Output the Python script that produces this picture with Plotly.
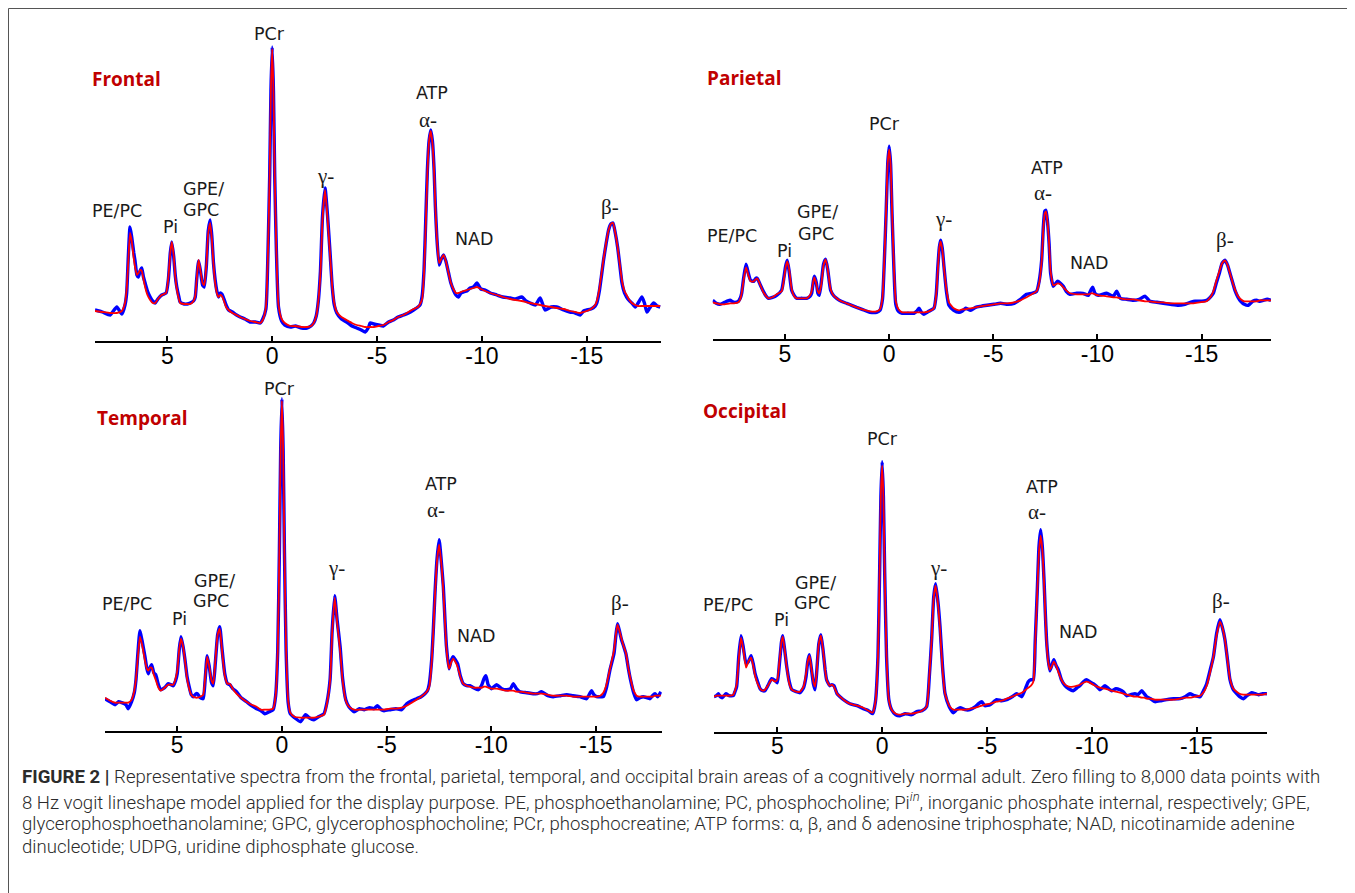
import plotly.graph_objects as go

# The browser page has an 8 px body margin, so the figure is laid out in page pixels minus 8.
PAGE_OFFSET = 8
FW, FH = 1347, 885

# ---------------- data (chemical shift in ppm, signal in arbitrary units) ----------------
frontal_ppm = [8.45, 8.1, 7.73, 7.41, 7.17, 7.02, 6.94, 6.86, 6.78, 6.7,
               6.6, 6.54, 6.45, 6.38, 6.3, 6.22, 6.14, 6.06, 5.95, 5.82,
               5.7, 5.58, 5.45, 5.27, 5.06, 4.95, 4.86, 4.79, 4.7, 4.62,
               4.55, 4.45, 4.39, 4.2, 4.05, 3.91, 3.75, 3.67, 3.6, 3.51,
               3.42, 3.32, 3.24, 3.14, 3.05, 2.96, 2.88, 2.8, 2.72, 2.64,
               2.56, 2.48, 2.4, 2.3, 2.2, 2.08, 1.9, 1.7, 1.53, 1.3,
               1.05, 0.8, 0.57, 0.45, 0.3, 0.2, 0.12, 0.06, 0.0, -0.06,
               -0.12, -0.2, -0.3, -0.45, -0.6, -0.87, -1.1, -1.4, -1.66, -1.85,
               -1.98, -2.1, -2.2, -2.3, -2.4, -2.52, -2.64, -2.76, -2.86, -2.96,
               -3.08, -3.3, -3.55, -3.8, -4.03, -4.25, -4.43, -4.6, -4.67, -4.85,
               -5.07, -5.3, -5.55, -5.78, -6.0, -6.26, -6.5, -6.74, -6.95, -7.05,
               -7.15, -7.24, -7.32, -7.4, -7.48, -7.56, -7.64, -7.72, -7.78, -7.85,
               -7.96, -8.06, -8.17, -8.28, -8.41, -8.52, -8.64, -8.76, -8.88, -9.0,
               -9.12, -9.28, -9.44, -9.6, -9.76, -9.95, -10.15, -10.4, -10.71, -11.0,
               -11.35, -11.6, -11.9, -12.1, -12.3, -12.55, -12.78, -13.01, -13.3, -13.57,
               -13.9, -14.2, -14.45, -14.68, -14.85, -15.0, -15.2, -15.4, -15.48, -15.6,
               -15.7, -15.8, -15.92, -16.04, -16.15, -16.25, -16.36, -16.47, -16.58, -16.68,
               -16.8, -16.9, -17.0, -17.15, -17.31, -17.45, -17.63, -17.75, -17.87, -18.0,
               -18.19, -18.35, -18.5]
frontal_measured = [31, 29, 26, 34, 27, 36, 48, 85, 114, 104,
                    88, 80, 66, 64, 70, 73, 64, 58, 50, 44,
                    40, 38, 42, 46, 48, 62, 88, 99, 85, 65,
                    54, 44, 39, 37, 37, 38, 40, 44, 62, 80,
                    70, 56, 54, 75, 110, 121, 105, 78, 61, 50,
                    44, 48, 47, 42, 36, 31, 29, 26, 24, 22,
                    19, 19, 18, 22, 32, 90, 165, 250, 294, 250,
                    165, 90, 34, 20, 16, 14, 15, 13, 13, 15,
                    18, 25, 40, 70, 125, 153, 125, 88, 55, 36,
                    28, 22, 19, 15, 13, 11, 9, 14, 18, 17,
                    16, 15, 19, 21, 24, 26, 28, 31, 34, 36,
                    45, 71, 120, 171, 200, 211, 200, 171, 135, 104,
                    76, 82, 86, 80, 68, 58, 51, 46, 44, 48,
                    49, 50, 53, 54, 58, 52, 51, 48, 46, 44,
                    43, 42, 44, 40, 38, 36, 43, 31, 34, 34,
                    31, 29, 28, 26, 30, 31, 32, 35, 38, 50,
                    65, 81, 97, 111, 117, 118, 108, 94, 75, 58,
                    48, 44, 41, 38, 34, 38, 44, 38, 29, 33,
                    38, 35, 34]
frontal_fit = [30, 29, 28, 28, 30, 38, 52, 80, 108, 100,
               82, 74, 66, 68, 71, 70, 62, 54, 46, 41,
               38, 38, 42, 46, 48, 64, 88, 99, 86, 64,
               52, 42, 38, 37, 37, 37, 40, 45, 62, 81,
               70, 58, 56, 76, 108, 118, 102, 77, 58, 48,
               44, 46, 45, 40, 34, 31, 28, 26, 24, 22,
               20, 19, 18, 21, 34, 90, 168, 252, 292, 250,
               165, 90, 36, 22, 18, 15, 15, 14, 14, 15,
               18, 25, 40, 68, 122, 151, 122, 86, 55, 38,
               29, 24, 21, 18, 16, 15, 14, 14, 14, 14,
               15, 16, 19, 21, 24, 26, 29, 32, 34, 37,
               42, 68, 115, 168, 200, 210, 198, 170, 135, 104,
               78, 82, 86, 80, 68, 58, 52, 48, 48, 49,
               50, 51, 52, 53, 54, 52, 50, 48, 46, 44,
               42, 41, 40, 39, 38, 37, 36, 35, 34, 33,
               32, 30, 29, 28, 29, 30, 32, 36, 40, 52,
               67, 82, 98, 111, 117, 118, 108, 94, 76, 60,
               50, 46, 42, 38, 36, 35, 35, 35, 35, 35,
               35, 35, 35]

parietal_ppm = [8.47, 8.3, 8.12, 7.9, 7.64, 7.45, 7.24, 7.15, 7.08, 6.98,
                6.87, 6.76, 6.65, 6.5, 6.4, 6.33, 6.2, 6.04, 5.9, 5.8,
                5.6, 5.4, 5.16, 5.05, 4.97, 4.89, 4.8, 4.68, 4.56, 4.44,
                4.2, 3.96, 3.8, 3.72, 3.64, 3.59, 3.5, 3.42, 3.35, 3.25,
                3.15, 3.05, 2.95, 2.81, 2.68, 2.52, 2.3, 2.04, 1.8, 1.56,
                1.3, 0.92, 0.6, 0.44, 0.32, 0.23, 0.14, 0.07, 0.0, -0.07,
                -0.14, -0.23, -0.32, -0.45, -0.63, -0.9, -1.19, -1.32, -1.43, -1.55,
                -1.67, -1.9, -2.15, -2.26, -2.34, -2.41, -2.47, -2.55, -2.63, -2.75,
                -2.87, -3.1, -3.35, -3.5, -3.67, -3.91, -4.15, -4.39, -4.7, -5.03,
                -5.35, -5.7, -6.0, -6.3, -6.6, -6.85, -7.08, -7.2, -7.32, -7.4,
                -7.47, -7.53, -7.6, -7.68, -7.75, -7.88, -8.0, -8.09, -8.22, -8.36,
                -8.5, -8.68, -9.0, -9.3, -9.56, -9.7, -9.77, -9.88, -10.04, -10.44,
                -10.76, -10.92, -11.1, -11.4, -11.72, -12.0, -12.28, -12.52, -12.85, -13.16,
                -13.5, -13.88, -14.2, -14.6, -14.9, -15.24, -15.45, -15.56, -15.7, -15.85,
                -15.98, -16.12, -16.25, -16.36, -16.5, -16.6, -16.75, -16.88, -17.05, -17.24,
                -17.45, -17.64, -17.8, -17.96, -18.15, -18.33]
parietal_measured = [39, 36, 35, 37, 39, 37, 38, 41, 46, 62,
                     75, 66, 59, 58, 61, 61, 55, 48, 43, 41,
                     42, 44, 49, 62, 73, 79, 68, 49, 44, 41,
                     41, 41, 43, 46, 58, 63, 57, 46, 44, 58,
                     75, 80, 70, 49, 44, 41, 38, 36, 34, 32,
                     30, 27, 27, 29, 40, 79, 130, 175, 193, 175,
                     125, 70, 35, 28, 26, 26, 26, 28, 31, 27,
                     25, 28, 31, 45, 73, 92, 99, 91, 73, 48,
                     34, 29, 27, 28, 31, 29, 32, 33, 34, 35,
                     36, 35, 36, 40, 45, 46, 48, 58, 79, 112,
                     128, 129, 118, 95, 66, 53, 56, 58, 56, 53,
                     48, 45, 46, 46, 44, 50, 52, 46, 44, 46,
                     43, 48, 41, 40, 39, 40, 43, 38, 37, 36,
                     35, 34, 35, 38, 38, 39, 43, 46, 56, 66,
                     76, 79, 74, 66, 56, 49, 42, 38, 35, 34,
                     38, 39, 38, 39, 40, 39]
parietal_fit = [37, 36, 35, 35, 36, 36, 37, 40, 46, 60,
                72, 64, 58, 58, 60, 61, 55, 47, 43, 41,
                42, 45, 48, 60, 72, 78, 70, 50, 43, 41,
                41, 41, 44, 48, 58, 62, 56, 48, 46, 56,
                74, 80, 70, 50, 44, 41, 38, 36, 34, 32,
                30, 28, 28, 30, 42, 80, 132, 176, 190, 175,
                128, 72, 38, 30, 27, 27, 27, 27, 27, 27,
                27, 28, 31, 45, 70, 92, 98, 90, 72, 50,
                37, 31, 29, 30, 30, 31, 32, 33, 34, 35,
                36, 36, 37, 39, 42, 45, 48, 56, 78, 110,
                126, 128, 118, 95, 68, 54, 55, 56, 55, 52,
                49, 46, 45, 45, 45, 46, 46, 45, 44, 43,
                42, 42, 41, 40, 40, 39, 38, 38, 37, 37,
                36, 36, 36, 36, 37, 38, 43, 48, 58, 68,
                76, 79, 74, 66, 56, 50, 43, 40, 38, 38,
                38, 38, 39, 39, 39, 39]

temporal_ppm = [8.45, 8.2, 7.97, 7.8, 7.65, 7.45, 7.34, 7.18, 7.05, 6.97,
                6.87, 6.78, 6.68, 6.54, 6.45, 6.38, 6.3, 6.22, 6.12, 6.03,
                5.9, 5.79, 5.6, 5.43, 5.3, 5.19, 5.08, 5.0, 4.9, 4.82,
                4.72, 4.63, 4.53, 4.43, 4.33, 4.23, 4.1, 4.04, 3.9, 3.76,
                3.67, 3.57, 3.47, 3.36, 3.28, 3.18, 3.07, 2.97, 2.87, 2.73,
                2.6, 2.49, 2.35, 2.17, 1.95, 1.69, 1.45, 1.21, 1.0, 0.82,
                0.6, 0.42, 0.3, 0.2, 0.12, 0.06, 0.0, -0.06, -0.12, -0.2,
                -0.3, -0.4, -0.6, -0.89, -1.13, -1.3, -1.53, -1.75, -2.01, -2.15,
                -2.3, -2.4, -2.52, -2.64, -2.78, -2.9, -3.05, -3.2, -3.45, -3.7,
                -3.93, -4.2, -4.4, -4.56, -4.75, -4.88, -5.16, -5.45, -5.72, -5.96,
                -6.2, -6.43, -6.65, -6.83, -6.95, -7.04, -7.15, -7.23, -7.31, -7.41,
                -7.51, -7.61, -7.71, -7.79, -7.86, -7.98, -8.08, -8.18, -8.28, -8.39,
                -8.52, -8.66, -8.82, -8.98, -9.15, -9.38, -9.55, -9.65, -9.74, -9.85,
                -10.01, -10.25, -10.5, -10.73, -10.92, -11.05, -11.2, -11.37, -11.7, -12.0,
                -12.2, -12.4, -12.7, -12.96, -13.3, -13.6, -13.9, -14.23, -14.55, -14.7,
                -14.79, -14.9, -15.03, -15.2, -15.35, -15.5, -15.67, -15.86, -15.95, -16.03,
                -16.12, -16.22, -16.33, -16.43, -16.55, -16.65, -16.8, -16.94, -17.1, -17.26,
                -17.42, -17.58, -17.7, -17.82, -17.95, -18.1]
temporal_measured = [32, 29, 26, 29, 28, 26, 22, 29, 38, 51,
                     80, 100, 90, 74, 62, 57, 63, 66, 58, 56,
                     46, 41, 43, 47, 46, 45, 50, 57, 82, 94,
                     84, 71, 54, 44, 36, 34, 37, 37, 33, 32,
                     50, 75, 64, 48, 45, 68, 96, 104, 84, 57,
                     47, 46, 42, 39, 33, 29, 25, 22, 20, 17,
                     19, 21, 35, 80, 180, 280, 332, 280, 180, 80,
                     28, 17, 13, 9, 16, 13, 11, 14, 17, 28,
                     51, 100, 135, 110, 84, 52, 31, 24, 19, 22,
                     21, 23, 22, 25, 21, 20, 21, 22, 21, 27,
                     30, 32, 34, 37, 40, 47, 70, 100, 137, 172,
                     191, 170, 144, 110, 84, 62, 70, 74, 71, 67,
                     55, 47, 45, 45, 43, 41, 46, 52, 55, 46,
                     42, 46, 42, 41, 42, 47, 42, 39, 38, 37,
                     37, 39, 35, 34, 35, 36, 35, 34, 32, 37,
                     40, 36, 34, 34, 34, 43, 61, 77, 95, 107,
                     100, 91, 84, 77, 62, 51, 38, 31, 33, 34,
                     33, 32, 35, 37, 34, 39]
temporal_fit = [33, 30, 28, 28, 28, 28, 28, 31, 40, 52,
                76, 94, 86, 70, 62, 60, 63, 63, 56, 51,
                43, 40, 43, 46, 46, 46, 52, 60, 82, 92,
                84, 70, 52, 42, 36, 34, 33, 33, 34, 36,
                52, 74, 64, 50, 47, 70, 96, 102, 82, 55,
                47, 47, 42, 37, 33, 29, 26, 24, 21, 21,
                21, 22, 35, 80, 182, 282, 330, 280, 180, 82,
                30, 18, 14, 13, 13, 13, 13, 14, 16, 27,
                50, 98, 133, 108, 80, 50, 30, 24, 21, 21,
                21, 21, 21, 21, 21, 21, 22, 22, 23, 25,
                28, 31, 34, 37, 40, 44, 68, 98, 135, 170,
                186, 168, 140, 108, 82, 62, 68, 72, 69, 64,
                54, 47, 45, 44, 43, 43, 43, 44, 44, 43,
                42, 42, 41, 40, 40, 40, 39, 39, 38, 37,
                37, 37, 36, 35, 35, 35, 34, 34, 34, 34,
                34, 34, 34, 35, 38, 46, 62, 80, 96, 106,
                100, 92, 84, 78, 62, 52, 40, 35, 34, 34,
                34, 34, 34, 35, 35, 35]

occipital_ppm = [8.02, 7.9, 7.81, 7.72, 7.62, 7.45, 7.3, 7.1, 7.02, 6.94,
                 6.84, 6.73, 6.62, 6.49, 6.38, 6.25, 6.15, 6.06, 5.94, 5.82,
                 5.7, 5.59, 5.45, 5.27, 5.1, 5.0, 4.9, 4.8, 4.74, 4.65,
                 4.55, 4.43, 4.31, 4.1, 3.92, 3.75, 3.63, 3.55, 3.47, 3.38,
                 3.28, 3.2, 3.12, 3.02, 2.92, 2.82, 2.72, 2.65, 2.5, 2.4,
                 2.3, 2.15, 2.01, 1.78, 1.54, 1.2, 0.9, 0.65, 0.45, 0.32,
                 0.2, 0.12, 0.06, 0.0, -0.06, -0.12, -0.21, -0.32, -0.45, -0.65,
                 -0.85, -1.1, -1.4, -1.65, -1.9, -2.12, -2.25, -2.36, -2.46, -2.55,
                 -2.66, -2.76, -2.88, -3.0, -3.2, -3.4, -3.55, -3.72, -3.95, -4.19,
                 -4.45, -4.6, -4.75, -4.9, -5.15, -5.46, -5.7, -5.94, -6.2, -6.42,
                 -6.66, -6.85, -6.97, -7.1, -7.21, -7.3, -7.4, -7.48, -7.56, -7.64,
                 -7.72, -7.78, -7.84, -7.92, -8.0, -8.1, -8.19, -8.3, -8.4, -8.55,
                 -8.72, -8.9, -9.11, -9.3, -9.43, -9.6, -9.75, -9.9, -10.07, -10.25,
                 -10.39, -10.63, -10.8, -10.94, -11.15, -11.34, -11.5, -11.66, -11.85, -12.06,
                 -12.2, -12.38, -12.5, -12.62, -12.8, -13.01, -13.3, -13.57, -13.9, -14.21,
                 -14.45, -14.68, -14.9, -15.16, -15.35, -15.48, -15.65, -15.8, -15.95, -16.11,
                 -16.23, -16.35, -16.47, -16.59, -16.75, -16.91, -17.05, -17.23, -17.4, -17.63,
                 -17.8, -17.95, -18.15, -18.35]
occipital_measured = [35, 36, 38, 35, 34, 38, 36, 36, 40, 45,
                      75, 96, 84, 68, 70, 76, 68, 58, 50, 43,
                      41, 41, 46, 53, 51, 49, 68, 90, 96, 82,
                      65, 50, 42, 40, 39, 44, 55, 70, 77, 64,
                      48, 42, 60, 88, 97, 82, 62, 52, 46, 47,
                      46, 38, 35, 31, 28, 26, 23, 21, 18, 30,
                      75, 160, 235, 270, 235, 160, 75, 32, 22, 17,
                      16, 18, 17, 20, 21, 25, 55, 92, 135, 148,
                      130, 105, 65, 38, 25, 19, 22, 24, 22, 22,
                      25, 28, 30, 26, 27, 32, 31, 32, 35, 38,
                      35, 44, 50, 52, 52, 90, 142, 185, 202, 185,
                      152, 120, 92, 72, 61, 67, 72, 66, 62, 52,
                      46, 43, 41, 44, 46, 50, 52, 50, 48, 45,
                      42, 46, 43, 41, 43, 42, 40, 36, 37, 38,
                      37, 41, 38, 35, 33, 30, 31, 32, 33, 33,
                      35, 38, 36, 35, 42, 48, 62, 75, 98, 112,
                      104, 92, 72, 52, 42, 38, 35, 33, 36, 39,
                      38, 37, 38, 38]
occipital_fit = [35, 36, 36, 36, 36, 36, 36, 37, 41, 47,
                 72, 94, 82, 64, 70, 74, 66, 56, 48, 43,
                 41, 42, 46, 52, 50, 52, 70, 90, 95, 82,
                 64, 48, 42, 40, 40, 45, 58, 70, 76, 64,
                 50, 45, 60, 88, 96, 82, 62, 52, 46, 47,
                 45, 38, 35, 31, 28, 26, 24, 21, 19, 30,
                 75, 162, 238, 266, 235, 160, 76, 32, 22, 18,
                 17, 18, 18, 19, 21, 25, 55, 92, 134, 146,
                 128, 102, 62, 38, 26, 22, 22, 22, 22, 23,
                 24, 25, 26, 27, 28, 30, 31, 33, 35, 37,
                 39, 42, 44, 46, 50, 88, 140, 180, 196, 182,
                 150, 118, 90, 70, 62, 66, 70, 66, 60, 52,
                 47, 45, 45, 46, 47, 49, 50, 49, 47, 45,
                 44, 43, 42, 41, 40, 39, 38, 37, 36, 35,
                 35, 34, 34, 33, 33, 32, 32, 32, 32, 33,
                 34, 34, 35, 36, 40, 46, 60, 75, 96, 110,
                 104, 92, 72, 53, 43, 40, 38, 37, 37, 37,
                 37, 37, 37, 38]

tick_values = [5, 0, -5, -10, -15]
tick_labels = ["5", "0", "-5", "-10", "-15"]
peak_labels = ["PE/PC", "Pi", "GPE/", "GPC", "PCr", "γ-", "ATP", "α-", "NAD", "β-"]
region_names = ["Frontal", "Parietal", "Temporal", "Occipital"]

caption_lines = [
    "<b>FIGURE 2 |</b> Representative spectra from the frontal, parietal, temporal, and occipital brain areas of a cognitively normal adult. Zero filling to 8,000 data points with",
    "8 Hz vogit lineshape model applied for the display purpose. PE, phosphoethanolamine; PC, phosphocholine; Pi<sup><i>in</i></sup>, inorganic phosphate internal, respectively; GPE,",
    "glycerophosphoethanolamine; GPC, glycerophosphocholine; PCr, phosphocreatine; ATP forms: α, β, and δ adenosine triphosphate; NAD, nicotinamide adenine",
    "dinucleotide; UDPG, uridine diphosphate glucose.",
]

# ---------------- layout (page-pixel geometry of each panel) ----------------
panels = [
    dict(ppm=frontal_ppm, meas=frontal_measured, fit=frontal_fit,
         x_px=(95, 661), axis_py=341, top_py=21, x_range=(8.45, -18.54),
         title_at=(6.97, 262),
         lab_x=[7.39, 4.87, 3.29, 3.39, 0.15, -2.52, -7.62, -7.43, -9.67, -16.11],
         lab_y=[130, 114, 152, 131, 307, 165, 248, 221, 102, 134]),
    dict(ppm=parietal_ppm, meas=parietal_measured, fit=parietal_fit,
         x_px=(712.7, 1271), axis_py=339.3, top_py=21, x_range=(8.47, -18.33),
         title_at=(6.92, 261),
         lab_x=[7.54, 5.0, 3.46, 3.51, 0.2, -2.59, -7.58, -7.39, -9.64, -16.12],
         lab_y=[103, 88, 127, 105, 215, 120, 171, 146, 76, 99]),
    dict(ppm=temporal_ppm, meas=temporal_measured, fit=temporal_fit,
         x_px=(105, 661.7), axis_py=730.7, top_py=381, x_range=(8.45, -18.14),
         title_at=(6.64, 313),
         lab_x=[7.4, 4.87, 3.24, 3.38, 0.1, -2.62, -7.6, -7.36, -9.31, -16.15],
         lab_y=[127, 112, 150, 130, 342, 163, 247, 221, 95, 128]),
    dict(ppm=occipital_ppm, meas=occipital_measured, fit=occipital_fit,
         x_px=(714, 1267.3), axis_py=731.7, top_py=381, x_range=(8.02, -18.37),
         title_at=(6.54, 321),
         lab_x=[7.35, 4.82, 3.2, 3.35, 0.0, -2.71, -7.62, -7.38, -9.38, -16.17],
         lab_y=[127, 112, 149, 129, 293, 164, 245, 220, 100, 131]),
]


def fx(px):
    return (px - PAGE_OFFSET) / FW


def fy(py):
    return 1 - (py - PAGE_OFFSET) / FH


fig = go.Figure()
layout_axes = {}
annotations = []

for i, p in enumerate(panels, start=1):
    xa = "x" if i == 1 else f"x{i}"
    ya = "y" if i == 1 else f"y{i}"
    xkey = "xaxis" if i == 1 else f"xaxis{i}"
    ykey = "yaxis" if i == 1 else f"yaxis{i}"

    fig.add_trace(go.Scatter(x=p["ppm"], y=p["meas"], xaxis=xa, yaxis=ya, mode="lines",
                             line=dict(color="#0000FF", width=3.4, shape="spline", smoothing=0.5),
                             hoverinfo="skip", showlegend=False))
    fig.add_trace(go.Scatter(x=p["ppm"], y=p["fit"], xaxis=xa, yaxis=ya, mode="lines",
                             line=dict(color="#FF0000", width=1.8, shape="spline", smoothing=0.5),
                             hoverinfo="skip", showlegend=False))

    x0, x1 = p["x_px"]
    layout_axes[xkey] = dict(
        domain=[fx(x0), fx(x1)], range=list(p["x_range"]), anchor=ya,
        showline=True, linecolor="#000000", linewidth=2,
        ticks="inside", ticklen=5, tickwidth=2, tickcolor="#000000",
        tickvals=tick_values, ticktext=tick_labels, ticklabelstandoff=-7,
        tickfont=dict(family="Liberation Sans, Arial, sans-serif", size=23, color="#000000"),
        showgrid=False, zeroline=False, fixedrange=True,
    )
    layout_axes[ykey] = dict(
        domain=[fy(p["axis_py"]), fy(p["top_py"])],
        range=[0, p["axis_py"] - p["top_py"]], anchor=xa,
        visible=False, showgrid=False, zeroline=False, fixedrange=True,
    )

    tx, ty = p["title_at"]
    annotations.append(dict(x=tx, y=ty, xref=xa, yref=ya, text=f"<b>{region_names[i-1]}</b>",
                            showarrow=False, xanchor="center", yanchor="middle",
                            font=dict(family="Open Sans, sans-serif", size=19, color="#C00000")))
    for txt, lx, ly in zip(peak_labels, p["lab_x"], p["lab_y"]):
        greek = txt[0] in "αβγ"
        annotations.append(dict(
            x=lx, y=ly, xref=xa, yref=ya, text=txt, showarrow=False,
            xanchor="center", yanchor="middle",
            font=dict(family="Liberation Serif, serif" if greek else "DejaVu Sans, sans-serif",
                      size=21 if greek else 17.5, color="#1a1a1a")))

caption_py = [777, 801, 824, 847]
for line, py in zip(caption_lines, caption_py):
    annotations.append(dict(x=fx(20), y=fy(py), xref="paper", yref="paper", text=line,
                            showarrow=False, xanchor="left", yanchor="middle", align="left",
                            font=dict(family="Roboto, Liberation Sans, sans-serif", size=18.6,
                                      color="#2b2b2b", weight=300)))

shapes = [
    dict(type="line", xref="paper", yref="paper", x0=0.5 / FW, x1=1.0,
         y0=1 - 0.5 / FH, y1=1 - 0.5 / FH, line=dict(color="#555555", width=1)),
    dict(type="line", xref="paper", yref="paper", x0=0.5 / FW, x1=0.5 / FW,
         y0=1 - 0.5 / FH, y1=0.0, line=dict(color="#555555", width=1)),
]

fig.update_layout(
    width=FW, height=FH, margin=dict(l=0, r=0, t=0, b=0),
    paper_bgcolor="#FFFFFF", plot_bgcolor="#FFFFFF",
    showlegend=False, annotations=annotations, shapes=shapes,
    **layout_axes,
)

fig.write_html("out.html")
